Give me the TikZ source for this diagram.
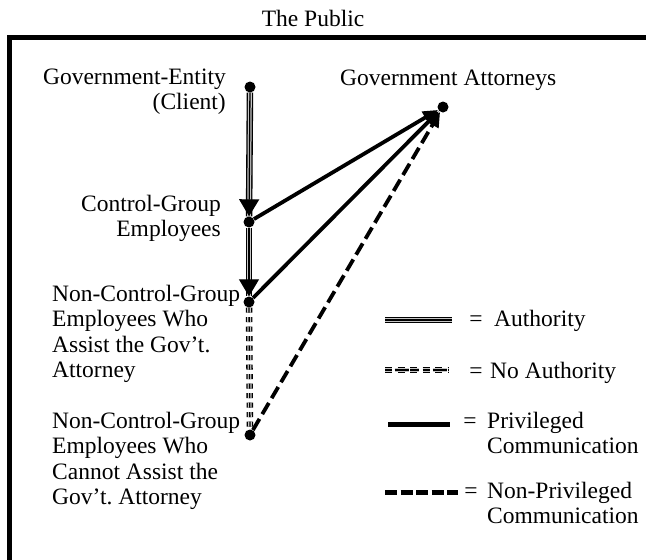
\documentclass[tikz,border=0pt]{standalone}
\usepackage{fontspec}
\setmainfont{Liberation Serif}
\usetikzlibrary{arrows.meta}
\frenchspacing

\tikzset{
  lbl/.style={inner sep=0pt, font=\fontsize{23.5}{25.5}\selectfont},
  dot/.style={circle, fill=black, inner sep=0pt, minimum size=11pt},
  % triple rule: black outside, grey inside, thin black core
  authority/.style={line width=6.5pt, draw=black,
    postaction={draw=gray!45, line width=3.8pt}},
  authcore/.style={line width=1.3pt, draw=black},
  authhead/.style={authcore, -{Triangle[length=17pt,width=20pt]}},
  noauthority/.style={line width=6.5pt, draw=black, dash pattern=on 5pt off 4.5pt,
    postaction={draw=gray!45, line width=3.8pt, dash pattern=on 5pt off 4.5pt},
    postaction={draw=black, line width=1.3pt, dash pattern=on 5pt off 4.5pt}},
  privileged/.style={line width=3.8pt, draw=black, line cap=butt},
  nonprivileged/.style={line width=3.8pt, draw=black, dash pattern=on 13pt off 5.5pt},
  commhead/.style={-{Triangle[length=15pt,width=13pt]}},
}

\begin{document}
\begin{tikzpicture}[x=1pt,y=-1pt]
\useasboundingbox (0,0) rectangle (646,560);

% frame of the organisation, open to the right and bottom
\draw[line width=5pt, line join=miter] (646,37.5) -| (9.5,560);

\node[lbl, anchor=base] (public) at (313,26) {The Public};

% parties
\node[dot] (ge)  at (250,87)  {};
\node[dot] (cg)  at (249,222) {};
\node[dot] (nca) at (249,302) {};
\node[dot] (ncc) at (250,435) {};
\node[dot] (ga)  at (443,107) {};

% multi-line labels are placed by the baseline of their last line
\node[lbl, anchor=base east, align=right] (geL) at (226,109.5)
  {Government-Entity\\(Client)};
\node[lbl, anchor=base east, align=right] (cgL) at (221,236.5)
  {Control-Group\\Employees};
\node[lbl, anchor=base west, align=left] (ncaL) at (52,377.5)
  {Non-Control-Group\\Employees Who\\Assist the Gov’t.\\Attorney};
\node[lbl, anchor=base west, align=left] (nccL) at (52,504.5)
  {Non-Control-Group\\Employees Who\\Cannot Assist the\\Gov’t. Attorney};
\node[lbl, anchor=base west] (gaL) at (340,85) {Government Attorneys};

% chain of authority
\draw[authority] (ge) -- (cg);
\draw[authhead] (ge) -- (cg);
\draw[authority] (cg) -- (nca);
\draw[authhead] (cg) -- (nca);
\draw[noauthority] (nca) -- (ncc);

% communications with counsel
\draw[nonprivileged, commhead] (ncc) -- (ga);
\draw[privileged, commhead] (nca) -- (ga);
\draw[privileged, commhead] (cg) -- (ga);

% legend
\coordinate (a1) at (385,320); \coordinate (a2) at (452,320);
\coordinate (b1) at (385,370); \coordinate (b2) at (448,370);
\coordinate (c1) at (388,424); \coordinate (c2) at (450,424);
\coordinate (d1) at (385,492); \coordinate (d2) at (458,492);

\draw[authority] (a1) -- (a2);
\draw[authcore] (a1) -- (a2);
\draw[noauthority, dash pattern=on 7pt off 5.5pt,
  postaction={draw=gray!45, line width=3.8pt, dash pattern=on 7pt off 5.5pt},
  postaction={draw=black, line width=1.3pt, dash pattern=on 7pt off 5.5pt}] (b1) -- (b2);
\draw[privileged, line width=5pt] (c1) -- (c2);
\draw[nonprivileged, line width=5pt, dash pattern=on 12pt off 3.5pt] (d1) -- (d2);

\node[lbl, anchor=base] (eqA) at (476,326) {=};
\node[lbl, anchor=base west] (legA) at (494,326) {Authority};
\node[lbl, anchor=base] (eqB) at (476,378) {=};
\node[lbl, anchor=base west] (legB) at (490,378) {No Authority};
\node[lbl, anchor=base] (eqC) at (470,428) {=};
\node[lbl, anchor=base west, align=left] (legC) at (487,453.5) {Privileged\\Communication};
\node[lbl, anchor=base] (eqD) at (471,498) {=};
\node[lbl, anchor=base west, align=left] (legD) at (487,523.5) {Non-Privileged\\Communication};
\end{tikzpicture}
\end{document}
